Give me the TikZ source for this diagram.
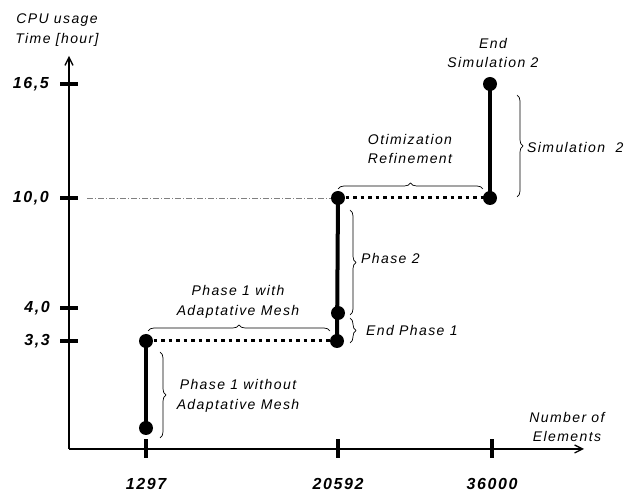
\documentclass[tikz,border=0pt]{standalone}
\usepackage{fontspec}
\setmainfont{Liberation Sans}
\newfontfamily\noteFont[LetterSpace=10]{Liberation Sans}
\usetikzlibrary{arrows.meta,decorations.pathreplacing,calc}

\begin{document}
\begin{tikzpicture}[
        x=1pt, y=-1pt,
        dotNode/.style={circle, fill=black, inner sep=0pt, minimum size=14pt},
        tickY/.style={rectangle, fill=black, inner sep=0pt, minimum width=18pt, minimum height=4pt},
        tickX/.style={rectangle, fill=black, inner sep=0pt, minimum width=4pt, minimum height=19pt},
        valueText/.style={font=\noteFont\fontsize{16}{19}\selectfont\bfseries\itshape, inner sep=0pt},
        noteText/.style={font=\noteFont\fontsize{14}{19.5}\selectfont\itshape, align=center, inner sep=1pt},
        stepLine/.style={line width=4pt},
        levelLine/.style={line width=3pt, dash pattern=on 3.5pt off 4pt},
        braceStyle/.style={decorate, decoration={brace, amplitude=6pt}, line width=0.7pt},
        axisStyle/.style={line width=1.3pt, -{Straight Barb[length=8pt, width=8pt]}}
    ]
        \useasboundingbox (0,0) rectangle (633,494);

        % Axes
        \coordinate (origin) at (69,449);
        \coordinate (yEnd) at (69,56);
        \coordinate (xEnd) at (584,449);
        \draw[axisStyle] (origin) -- (yEnd);
        \draw[axisStyle] (origin) -- (xEnd);
        \node[noteText] (yLabel) at (57,30) {CPU usage\\Time [hour]};
        \node[noteText] (xLabel) at (567,427) {Number of\\Elements};

        % Ticks on the time axis
        \node[tickY] (t165) at (69,84) {};
        \node[tickY] (t100) at (69,198) {};
        \node[tickY] (t40) at (69,308) {};
        \node[tickY] (t33) at (69,341) {};
        \node[valueText, anchor=east] (v165) at (49,84) {16,5};
        \node[valueText, anchor=east] (v100) at (49,198) {10,0};
        \node[valueText, anchor=east] (v40) at (50,308) {4,0};
        \node[valueText, anchor=east] (v33) at (50,341) {3,3};

        % Ticks on the elements axis
        \node[tickX] (e1) at (146,449) {};
        \node[tickX] (e2) at (338,449) {};
        \node[tickX] (e3) at (492,449) {};
        \node[valueText] (n1) at (146,484) {1297};
        \node[valueText] (n2) at (338,484) {20592};
        \node[valueText] (n3) at (492,484) {36000};

        % Points of the run
        \node[dotNode] (startA) at (146,428) {};
        \node[dotNode] (meshA) at (146,341) {};
        \node[dotNode] (meshB) at (337,341) {};
        \node[dotNode] (endPhase) at (338,313) {};
        \node[dotNode] (phaseTwo) at (338,198) {};
        \node[dotNode] (simA) at (490,198) {};
        \node[dotNode] (simB) at (490,84) {};

        % Guide line at 10,0
        \coordinate (guide) at (87,198);
        \draw[gray, line width=0.8pt, dash pattern=on 6pt off 2pt on 1pt off 2pt] (guide) -- (phaseTwo.west);

        % Run
        \draw[stepLine] (startA.center) -- (meshA.center);
        \draw[levelLine] (meshA.center) -- (meshB.center);
        \draw[stepLine] (meshB.center) -- (phaseTwo.center);
        \draw[levelLine] (phaseTwo.center) -- (simA.center);
        \draw[stepLine] (simA.center) -- (simB.center);

        % Braces and notes
        \draw[braceStyle] (160,352) -- (160,438);
        \node[noteText] (noteNoMesh) at (238,396) {Phase 1 without\\Adaptative Mesh};

        \draw[braceStyle] (148,331) -- (330,331);
        \node[noteText] (noteMesh) at (238,302) {Phase 1 with\\Adaptative Mesh};

        \draw[braceStyle] (350,318) -- (350,343);
        \node[noteText, anchor=west] (noteEnd) at (365,331) {End Phase 1};

        \draw[braceStyle] (350,210) -- (350,315);
        \node[noteText, anchor=west] (noteTwo) at (360,258) {Phase 2};

        \draw[braceStyle] (338,189) -- (483,189);
        \node[noteText] (noteOpt) at (410,149) {Otimization\\Refinement};

        \draw[braceStyle] (517,95) -- (517,197);
        \node[noteText, anchor=west] (noteSim) at (526,147) {Simulation\ \ 2};

        \node[noteText] (noteEndSim) at (493,53) {End\\Simulation 2};
    \end{tikzpicture}
\end{document}
